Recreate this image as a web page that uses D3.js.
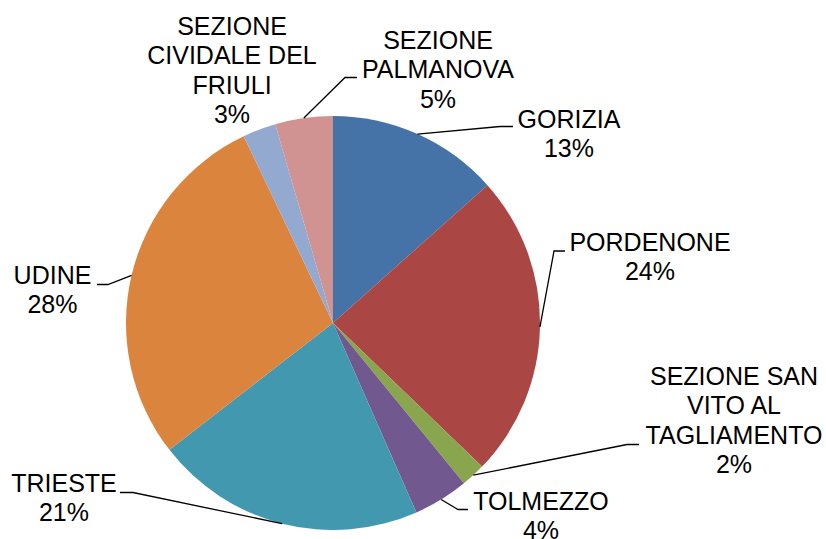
<!DOCTYPE html>
<html>
<head>
<meta charset="utf-8">
<script src="https://cdn.jsdelivr.net/npm/d3@7"></script>
<style>
  body { margin: 0; background: #fff; }
  svg { display: block; }
</style>
</head>
<body>
<div id="chart"></div>
<script>
// data
const categories = [
  "GORIZIA",
  "PORDENONE",
  "SEZIONE SAN\nVITO AL\nTAGLIAMENTO",
  "TOLMEZZO",
  "TRIESTE",
  "UDINE",
  "SEZIONE\nCIVIDALE DEL\nFRIULI",
  "SEZIONE\nPALMANOVA"
];
const values = [13.4, 23.8, 1.9, 4.3, 21.1, 28.4, 2.6, 4.5];
const colors = ["#4572A7", "#AA4643", "#89A54E", "#71588F", "#4198AF", "#DB843D", "#93A9CF", "#D19392"];

// label placement (x = text centre, y = first baseline, elbow/end of leader)
const labelLayout = [
  { x: 569, y: 128,   elbow: [500, 126.5], end: [513, 126.5] },
  { x: 650, y: 251,   elbow: [554, 251],   end: [565, 251] },
  { x: 734, y: 385,   elbow: [627, 444.5], end: [639, 444.5] },
  { x: 541, y: 509.5, elbow: [458, 509.5], end: [468, 509.5] },
  { x: 64,  y: 492,   elbow: [133, 492.5], end: [120, 492.5] },
  { x: 52.5, y: 284,  elbow: [108, 284.5], end: [97, 284.5] },
  { x: 232, y: 35,    elbow: null,         end: null },
  { x: 438, y: 49,    elbow: [345, 77.5],  end: [357, 77.5] }
];

// svg container
const svgWidth = 826, svgHeight = 539;
const cx = 333, cy = 323, radius = 207;
const lineHeight = 29.3;

const svg = d3.select("#chart").append("svg")
  .attr("width", svgWidth)
  .attr("height", svgHeight);

const pieGroup = svg.append("g")
  .attr("transform", `translate(${cx}, ${cy})`);

const pie = d3.pie().sort(null).value(d => d);
const arcs = pie(values);

const arc = d3.arc().innerRadius(0).outerRadius(radius);

// slices
pieGroup.selectAll("path.slice")
  .data(arcs)
  .enter()
  .append("path")
  .attr("class", "slice")
  .attr("d", arc)
  .attr("fill", (d, i) => colors[i]);

// leader lines start on the rim at each slice's mid angle
const rimPoint = d => {
  const a = (d.startAngle + d.endAngle) / 2;
  return [cx + radius * Math.sin(a), cy - radius * Math.cos(a)];
};

svg.selectAll("polyline.leader")
  .data(arcs.filter((d, i) => labelLayout[i].elbow))
  .enter()
  .append("polyline")
  .attr("class", "leader")
  .attr("points", d => {
    const L = labelLayout[d.index];
    return [rimPoint(d), L.elbow, L.end].map(p => p.join(",")).join(" ");
  })
  .attr("fill", "none")
  .attr("stroke", "#000")
  .attr("stroke-width", 1.3);

// labels
const labels = svg.selectAll("text.label")
  .data(arcs)
  .enter()
  .append("text")
  .attr("class", "label")
  .attr("text-anchor", "middle")
  .attr("font-family", "'Liberation Sans', Arial, sans-serif")
  .attr("font-size", 25)
  .attr("fill", "#000");

labels.each(function(d, i) {
  const L = labelLayout[i];
  const lines = categories[i].split("\n").concat([Math.round(d.value) + "%"]);
  d3.select(this).selectAll("tspan")
    .data(lines)
    .enter()
    .append("tspan")
    .attr("x", L.x)
    .attr("y", (t, j) => L.y + j * lineHeight)
    .text(t => t);
});
</script>
</body>
</html>
